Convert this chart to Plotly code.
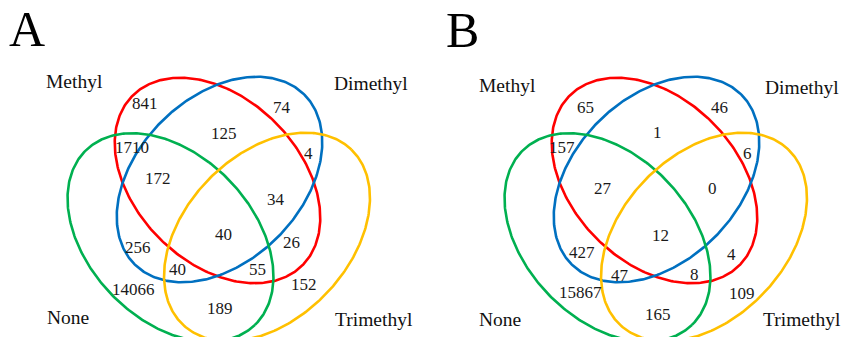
import numpy as np
import plotly.graph_objects as go

# Sets (one ellipse each) and their outline colours
set_names = ["Methyl", "Dimethyl", "None", "Trimethyl"]
set_colors = ["#FF0000", "#0070C0", "#00B050", "#FFC000"]

# Region keys: letters of the sets a region belongs to (M, D, N, T)
regions = ["M", "D", "N", "T", "MD", "MN", "MT", "DN", "DT", "NT",
           "MDN", "MDT", "MNT", "DNT", "MDNT"]
counts_a = [841, 74, 14066, 152, 125, 1710, 26, 256, 4, 189, 172, 34, 55, 40, 40]
counts_b = [65, 46, 15867, 109, 1, 157, 4, 427, 6, 165, 27, 0, 8, 47, 12]
panel_letters = ["A", "B"]

# ---- layout (pixel-like coordinates, y grows downwards) ----
W, H = 841, 337
FONT = "Liberation Serif, Times New Roman, serif"
panel_x0 = [218.5, 655.5]          # symmetry axis of each diagram

# ellipse geometry: centre offset from panel axis, semi-axes, tilt (deg)
ellipse_geom = {
    "Methyl":    (-1.0, 180.5, 120.0, 82.0, 45),
    "Dimethyl":  (1.0, 179.5, 120.0, 82.0, -45),
    "None":      (-48.0, 237.5, 121.5, 82.0, 46),
    "Trimethyl": (48.5, 237.0, 121.5, 82.0, -46),
}

# label anchors relative to the panel axis
label_pos = [
    {"M": (-73.5, 103), "D": (63.5, 107), "N": (-85.5, 289), "T": (85.5, 284),
     "MD": (5.5, 133), "MN": (-86.5, 147), "MT": (72.5, 242), "DN": (-80.5, 247),
     "DT": (89.5, 153), "NT": (1.5, 308), "MDN": (-60.5, 178), "MDT": (57.5, 199),
     "MNT": (38.5, 269), "DNT": (-41.5, 269), "MDNT": (4.5, 234)},
    {"M": (-70.5, 107), "D": (63.5, 107), "N": (-75.5, 292), "T": (86.5, 293),
     "MD": (1.5, 132), "MN": (-93.5, 147), "MT": (75.5, 254), "DN": (-73.5, 252),
     "DT": (91.5, 153), "NT": (2.5, 314), "MDN": (-52.5, 188), "MDT": (56.5, 188),
     "MNT": (38.5, 274), "DNT": (-35.5, 275), "MDNT": (4.5, 235)},
]
set_label_pos = [
    {"Methyl": (-144.5, 81), "Dimethyl": (152.5, 83), "None": (-151, 317), "Trimethyl": (155.5, 319)},
    {"Methyl": (-148, 85), "Dimethyl": (146.5, 87), "None": (-155.5, 319), "Trimethyl": (146.5, 319)},
]
letter_pos = [(-191.5, 29), (-193.5, 30)]

fig = go.Figure()
t = np.linspace(0, 2 * np.pi, 361)

for p, (x0, counts) in enumerate(zip(panel_x0, [counts_a, counts_b])):
    # ellipse outlines
    for name, color in zip(set_names, set_colors):
        dx, cy, ea, eb, ang = ellipse_geom[name]
        th = np.deg2rad(ang)
        u, v = ea * np.cos(t), eb * np.sin(t)
        xs = x0 + dx + u * np.cos(th) - v * np.sin(th)
        ys = cy + u * np.sin(th) + v * np.cos(th)
        fig.add_trace(go.Scatter(x=xs, y=ys, mode="lines",
                                 line=dict(color=color, width=2.6),
                                 hoverinfo="skip", showlegend=False))
    # region counts
    for key, val in zip(regions, counts):
        rx, ry = label_pos[p][key]
        fig.add_annotation(x=x0 + rx, y=ry, text=str(val), showarrow=False,
                           xanchor="center", yanchor="middle",
                           font=dict(family=FONT, size=17, color="#1a1a1a"))
    # set names
    for name in set_names:
        sx, sy = set_label_pos[p][name]
        fig.add_annotation(x=x0 + sx, y=sy, text=name, showarrow=False,
                           xanchor="center", yanchor="middle",
                           font=dict(family=FONT, size=19.5, color="#111111"))
    # panel letter
    lx, ly = letter_pos[p]
    fig.add_annotation(x=x0 + lx, y=ly, text=panel_letters[p], showarrow=False,
                       xanchor="center", yanchor="middle",
                       font=dict(family=FONT, size=50, color="#000000"))

fig.update_layout(
    width=W, height=H, margin=dict(l=0, r=0, t=0, b=0),
    paper_bgcolor="white", plot_bgcolor="white",
    xaxis=dict(range=[0, W], visible=False, fixedrange=True),
    yaxis=dict(range=[H, 0], visible=False, fixedrange=True),
)

fig.write_html("out.html")
